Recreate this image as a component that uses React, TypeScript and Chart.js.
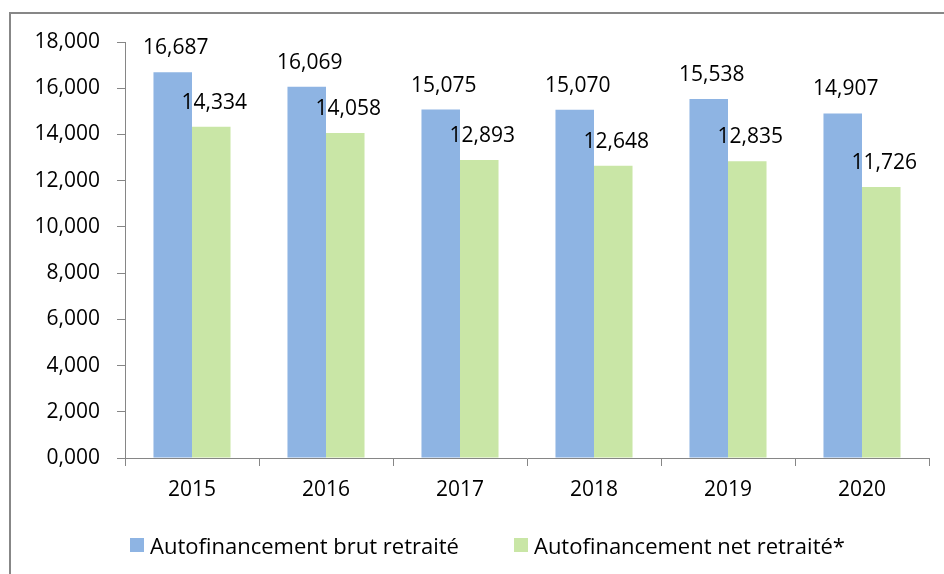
import React, { useEffect, useRef } from "react";
import { Chart, registerables } from "chart.js";

Chart.register(...registerables);

const categories = ["2015", "2016", "2017", "2018", "2019", "2020"];
const brutValues = [16.687, 16.069, 15.075, 15.07, 15.538, 14.907];
const netValues = [14.334, 14.058, 12.893, 12.648, 12.835, 11.726];
const seriesNames = ["Autofinancement brut retraité", "Autofinancement net retraité*"];
const seriesColors = ["#8EB4E3", "#C9E6A6"];
const yMin = 0;
const yMax = 18;
const yStep = 2;

const FONT = "'Open Sans', sans-serif";
const AXIS_GRAY = "#868686";

const fmt = (v: number) => v.toFixed(3).replace(".", ",");

const barLabelPlugin = {
  id: "barLabels",
  afterDatasetsDraw(chart: any) {
    const ctx = chart.ctx;
    ctx.save();
    ctx.font = `21px ${FONT}`;
    ctx.fillStyle = "#000";
    ctx.textAlign = "center";
    ctx.textBaseline = "middle";
    chart.data.datasets.forEach((ds: any, i: number) => {
      const meta = chart.getDatasetMeta(i);
      meta.data.forEach((el: any, j: number) => {
        ctx.fillText(fmt(ds.data[j]), el.x + 3, el.y - 24);
      });
    });
    ctx.restore();
  },
};

export default function App() {
  const canvasRef = useRef<HTMLCanvasElement | null>(null);

  useEffect(() => {
    if (!canvasRef.current) return;
    const chart = new Chart(canvasRef.current, {
      type: "bar",
      data: {
        labels: categories,
        datasets: [
          {
            label: seriesNames[0],
            data: brutValues,
            backgroundColor: seriesColors[0],
            borderWidth: 0,
            barPercentage: 1,
            categoryPercentage: 0.575,
          },
          {
            label: seriesNames[1],
            data: netValues,
            backgroundColor: seriesColors[1],
            borderWidth: 0,
            barPercentage: 1,
            categoryPercentage: 0.575,
          },
        ],
      },
      options: {
        responsive: false,
        animation: false,
        color: "#000",
        layout: { padding: { left: 0, right: 15, top: 42, bottom: 66 } },
        scales: {
          x: {
            afterFit: (s: any) => {
              s.height = 50;
            },
            grid: {
              drawOnChartArea: false,
              drawTicks: true,
              tickLength: 8,
              color: AXIS_GRAY,
            },
            border: { display: true, color: AXIS_GRAY, width: 1 },
            ticks: {
              color: "#000",
              font: { family: FONT, size: 21 },
              padding: 11,
            },
          },
          y: {
            min: yMin,
            max: yMax,
            afterFit: (s: any) => {
              s.width = 125;
            },
            grid: {
              drawOnChartArea: false,
              drawTicks: true,
              tickLength: 8,
              color: AXIS_GRAY,
            },
            border: { display: true, color: AXIS_GRAY, width: 1 },
            ticks: {
              stepSize: yStep,
              color: "#000",
              font: { family: FONT, size: 21 },
              padding: 17,
              callback: (v: any) => fmt(Number(v)),
            },
          },
        },
        plugins: {
          legend: { display: false },
          tooltip: { enabled: false },
        },
      },
      plugins: [barLabelPlugin],
    } as any);
    return () => chart.destroy();
  }, []);

  return (
    <div
      style={{
        position: "absolute",
        left: 0,
        top: 0,
        width: 944,
        height: 574,
        overflow: "hidden",
        background: "#fff",
      }}
    >
      <div
        style={{
          position: "absolute",
          left: 9,
          top: 12,
          width: 1000,
          height: 700,
          borderLeft: "2px solid #878787",
          borderTop: "2px solid #878787",
        }}
      />
      <canvas
        ref={canvasRef}
        width={944}
        height={574}
        style={{ position: "absolute", left: 0, top: 0, display: "block" }}
      />
      <div
        style={{
          position: "absolute",
          left: 130,
          top: 530,
          height: 30,
          display: "flex",
          alignItems: "center",
          gap: 55,
          fontFamily: FONT,
          fontSize: 22,
          color: "#000",
          whiteSpace: "nowrap",
        }}
      >
        {seriesNames.map((name, i) => (
          <div key={name} style={{ display: "flex", alignItems: "center" }}>
            <span
              style={{
                display: "inline-block",
                width: 14,
                height: 14,
                background: seriesColors[i],
                marginRight: 6,
              }}
            />
            <span>{name}</span>
          </div>
        ))}
      </div>
    </div>
  );
}
